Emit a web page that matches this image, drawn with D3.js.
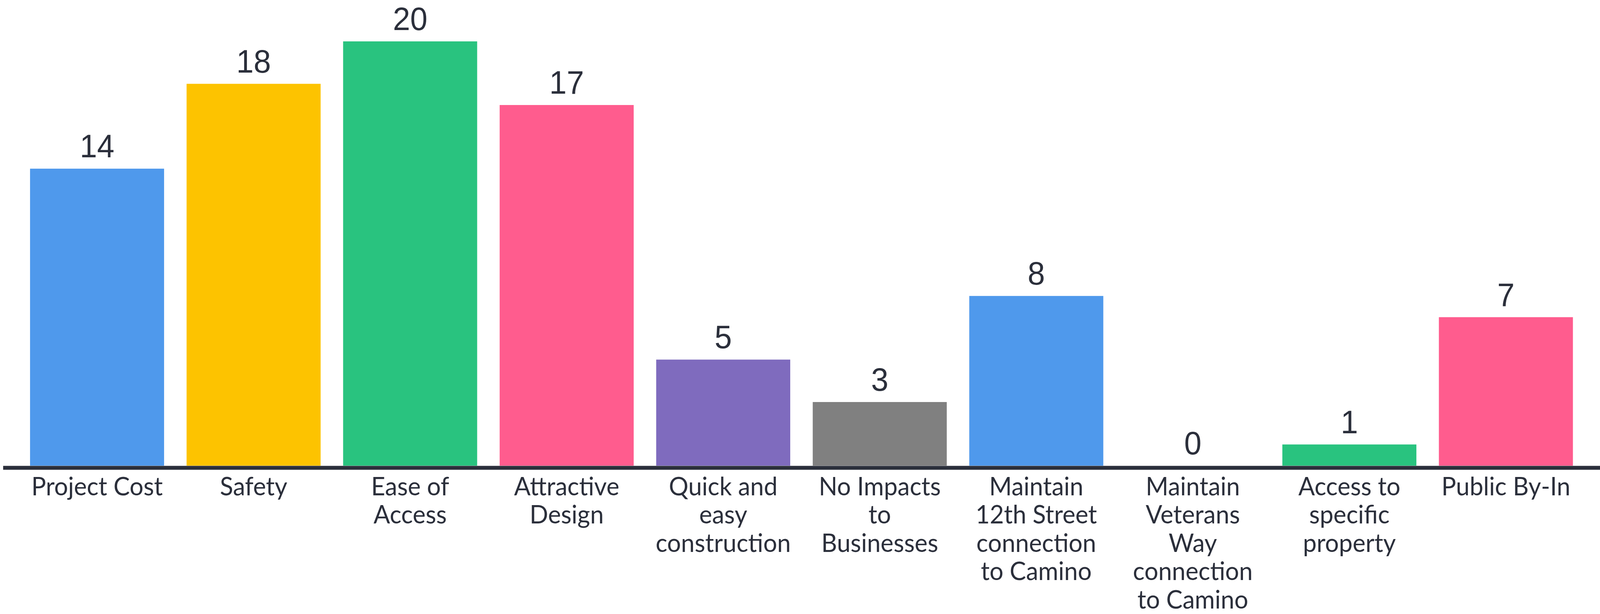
<!DOCTYPE html>
<html>
<head>
<meta charset="utf-8">
<script src="https://cdn.jsdelivr.net/npm/d3@7"></script>
<style>
  html, body { margin: 0; padding: 0; background: #fff; overflow: hidden; }
  svg { display: block; width: 100vw; height: 100vh; }
</style>
</head>
<body>
<svg id="chart"></svg>
<script>
const categories = [
  "Project Cost",
  "Safety",
  "Ease of Access",
  "Attractive Design",
  "Quick and easy construction",
  "No Impacts to Businesses",
  "Maintain 12th Street connection to Camino",
  "Maintain Veterans Way connection to Camino",
  "Access to specific property",
  "Public By-In"
];
const values = [14, 18, 20, 17, 5, 3, 8, 0, 1, 7];
const tickLabels = [
  ["Project Cost"],
  ["Safety"],
  ["Ease of", "Access"],
  ["Attractive", "Design"],
  ["Quick and", "easy", "construction"],
  ["No Impacts", "to", "Businesses"],
  ["Maintain", "12th Street", "connection", "to Camino"],
  ["Maintain", "Veterans", "Way", "connection", "to Camino"],
  ["Access to", "specific", "property"],
  ["Public By-In"]
];
const colors = [
  "#4f99ec", "#fdc300", "#29c37f", "#ff5c8e", "#7f6bbe",
  "#808080", "#4f99ec", "#29c37f", "#29c37f", "#ff5c8e"
];

const data = categories.map((name, i) => ({ name, value: values[i], color: colors[i] }));

// drawn in a 4318x1573 frame, stretched to whatever the viewport is
const width = 4318;
const height = 1573;
const margin = { top: 106, right: 0, bottom: 380, left: 8 };
const ink = "#2b2f3b";

const x = d3
  .scaleBand()
  .domain(categories)
  .range([margin.left, width - margin.right])
  .paddingInner(0.1437)
  .paddingOuter(0.173);

const y = d3
  .scaleLinear()
  .domain([0, 20])
  .range([height - margin.bottom, margin.top]);

const svg = d3
  .select("#chart")
  .attr("viewBox", `0 0 ${width} ${height}`)
  .attr("preserveAspectRatio", "none");

svg
  .append("g")
  .selectAll("rect")
  .data(data)
  .join("rect")
  .attr("x", (d) => x(d.name))
  .attr("y", (d) => y(d.value))
  .attr("width", x.bandwidth())
  .attr("height", (d) => y(0) - y(d.value))
  .attr("fill", (d) => d.color);

svg
  .append("g")
  .attr("font-family", "'Liberation Sans', Arial, sans-serif")
  .attr("font-size", 84)
  .attr("fill", ink)
  .attr("text-anchor", "middle")
  .selectAll("text")
  .data(data)
  .join("text")
  .attr("x", (d) => x(d.name) + x.bandwidth() / 2)
  .attr("y", (d) => y(d.value) - 29)
  .text((d) => d.value);

svg.append("g").call(xAxis);

function xAxis(g) {
  g.attr("transform", `translate(0,${y(0) + 5})`)
    .call(d3.axisBottom(x).tickSize(0).tickSizeOuter(0).tickFormat(() => ""))
    .call((g) => g.select(".domain").attr("stroke", ink).attr("stroke-width", 10))
    .call((g) => g.selectAll(".tick text").remove())
    .call((g) =>
      g
        .selectAll(".tick")
        .append("text")
        .attr("fill", ink)
        .attr("font-family", "Lato, sans-serif")
        .attr("font-size", 66)
        .attr("text-anchor", "middle")
        .selectAll("tspan")
        .data((d) => tickLabels[categories.indexOf(d)])
        .join("tspan")
        .attr("x", 0)
        .attr("y", (d, i) => 71 + i * 72.5)
        .text((d) => d)
    );
}
</script>
</body>
</html>
